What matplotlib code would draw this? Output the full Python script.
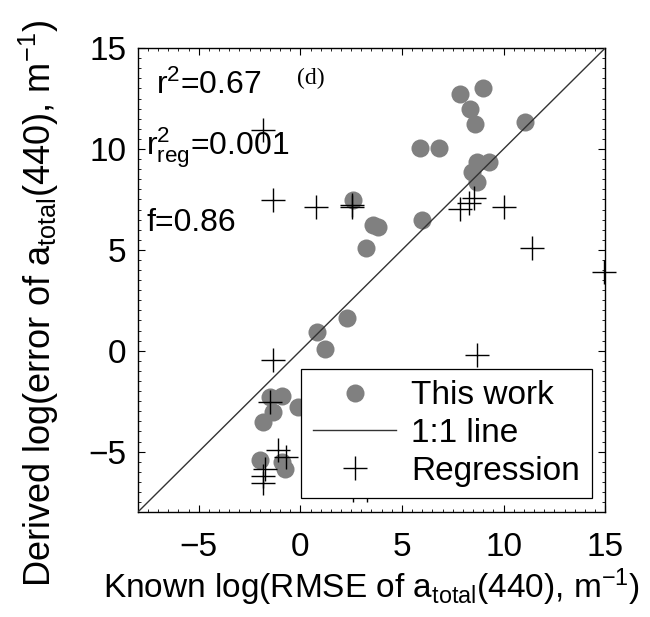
import matplotlib
matplotlib.use("Agg")
import matplotlib.pyplot as plt
from matplotlib.ticker import MultipleLocator

plt.rcParams['font.family'] = ['Liberation Sans', 'DejaVu Sans']
plt.rcParams['mathtext.fontset'] = 'custom'
plt.rcParams['mathtext.rm'] = 'Liberation Sans'
plt.rcParams['mathtext.it'] = 'Liberation Sans'

# This work (known x, derived y)
work_x = [7.86, 8.98, 8.35, 8.6, 11.06, 5.89, 6.84, 8.68, 9.26, 8.43, 8.68,
          2.57, 3.59, 3.84, 3.22, 5.97, 2.28, 0.8, 1.21, -1.5, -0.92, -1.33,
          -1.83, -0.1, -1.99, -0.76, -0.9]
work_y = [12.75, 13.0, 11.96, 11.23, 11.35, 10.06, 10.03, 9.36, 9.36, 8.87, 8.37,
          7.46, 6.22, 6.11, 5.07, 6.47, 1.6, 0.94, 0.11, -2.29, -2.25, -3.03,
          -3.53, -2.78, -5.43, -5.84, -5.5]

# Regression
reg_x = [-1.83, -1.33, 0.75, 2.52, 2.55, 7.86, 8.3, 8.55, 10.0, 11.39, 14.92,
         -1.33, 8.68, -1.5, -1.09, -0.71, -1.74, -1.83, -1.86, 2.6, 3.3]
reg_y = [10.93, 7.46, 7.13, 7.13, 7.2, 7.05, 7.3, 7.55, 7.13, 5.07, 3.91,
         -0.47, -0.22, -2.53, -4.93, -5.29, -5.84, -6.22, -6.55, -6.9, -6.9]

line_x = [-8, 15]
line_y = [-8, 15]

fig = plt.figure(figsize=(6.5, 6.17), dpi=100)
ax = fig.add_axes([0.212, 0.170, 0.719, 0.752])

ax.plot(work_x, work_y, 'o', color='#808080', markeredgecolor='none',
        markersize=13, label='This work', zorder=2)
ax.plot(line_x, line_y, '-', color='#333333', linewidth=1.0, label='1:1 line', zorder=3)
ax.plot(reg_x, reg_y, '+', color='black', markersize=17, markeredgewidth=1.0,
        label='Regression', zorder=4, clip_on=False)

ax.set_xlim(-8, 15)
ax.set_ylim(-8, 15)
ax.set_xticks([-5, 0, 5, 10, 15])
ax.set_yticks([-5, 0, 5, 10, 15])
ax.set_xticklabels(['\u22125', '0', '5', '10', '15'])
ax.set_yticklabels(['\u22125', '0', '5', '10', '15'])
ax.xaxis.set_minor_locator(MultipleLocator(0.5))
ax.yaxis.set_minor_locator(MultipleLocator(0.5))
ax.tick_params(which='both', direction='in', top=True, right=True, labelsize=24)
ax.tick_params(which='major', length=5, width=0.8)
ax.tick_params(which='minor', length=2.5, width=0.6)
ax.tick_params(axis='x', which='major', pad=14)
ax.tick_params(axis='y', which='major', pad=8)
for s in ax.spines.values():
    s.set_linewidth(1.0)

ax.set_xlabel(r'Known log(RMSE of a$_{\mathregular{total}}$(440), m$^{\mathregular{-1}}$)',
              fontsize=24, labelpad=3)
ax.set_ylabel(r'Derived log(error of a$_{\mathregular{total}}$(440), m$^{\mathregular{-1}}$)',
              fontsize=26)
ax.yaxis.set_label_coords(-0.165, 0.45)

ax.text(0.04, 0.92, r'r$^{\mathregular{2}}$=0.67', transform=ax.transAxes,
        fontsize=23, va='center', ha='left')
ax.text(0.34, 0.935, '(d)', transform=ax.transAxes, fontsize=17,
        family='Liberation Serif', va='center', ha='left')
ax.text(0.018, 0.785, r'r$^{\mathregular{2}}_{\mathregular{reg}}$=0.001', transform=ax.transAxes,
        fontsize=23, va='center', ha='left')
ax.text(0.018, 0.623, 'f=0.86', transform=ax.transAxes,
        fontsize=23, va='center', ha='left')

leg = ax.legend(loc='lower left', bbox_to_anchor=(0.35, 0.030), borderaxespad=0,
                fontsize=24, fancybox=False, framealpha=1, edgecolor='black',
                handlelength=2.5, borderpad=0.35, labelspacing=0.2, handletextpad=0.45)
leg.get_frame().set_linewidth(0.9)

fig.savefig('out.png', dpi=100)
